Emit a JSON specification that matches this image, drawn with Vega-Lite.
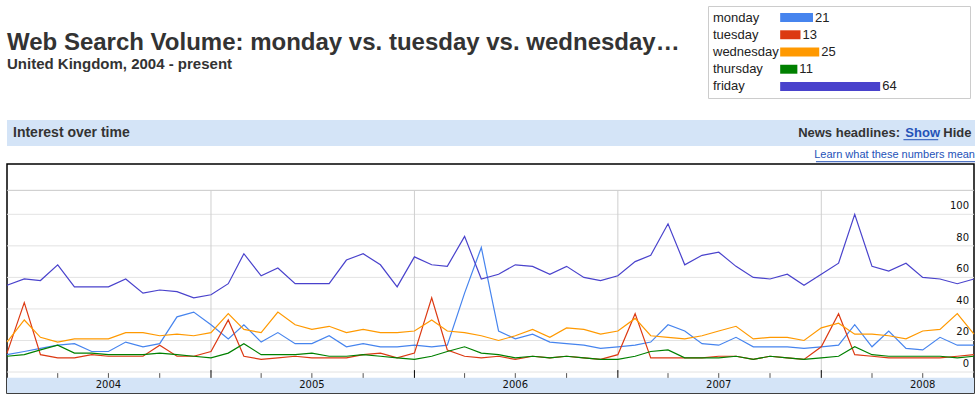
{
  "$schema": "https://vega.github.io/schema/vega-lite/v6.json",
  "background": "#ffffff",
  "padding": {"left": 3, "top": 5, "right": 0, "bottom": 3},
  "config": {"view": {"stroke": null}, "font": "Liberation Sans", "text": {"font": "Liberation Sans"}},
  "spacing": 21,
  "vconcat": [
    {
      "spacing": 10,
      "hconcat": [
        {
          "width": 690,
          "height": 92,
          "layer": [
            {
              "data": {"values": [{"t": "Web Search Volume: monday vs. tuesday vs. wednesday…"}]},
              "mark": {"type": "text", "align": "left", "baseline": "alphabetic", "fontSize": 24, "fontWeight": "bold", "color": "#333333", "dy": -1},
              "encoding": {
                "text": {"field": "t"},
                "x": {"datum": 0, "type": "quantitative", "scale": {"domain": [0, 1], "nice": false, "zero": false}, "axis": null},
                "y": {"datum": 1, "type": "quantitative", "scale": {"domain": [-1.8125, 3.9375], "reverse": true, "nice": false, "zero": false}, "axis": null}
              }
            },
            {
              "data": {"values": [{"t": "United Kingdom, 2004 - present"}]},
              "mark": {"type": "text", "align": "left", "baseline": "alphabetic", "fontSize": 15, "fontWeight": "bold", "color": "#333333", "dy": 2},
              "encoding": {
                "text": {"field": "t"},
                "x": {"datum": 0, "type": "quantitative", "scale": {"domain": [0, 1], "nice": false, "zero": false}, "axis": null},
                "y": {"datum": 2, "type": "quantitative", "scale": {"domain": [-1.8125, 3.9375], "reverse": true, "nice": false, "zero": false}, "axis": null}
              }
            }
          ]
        },
        {
          "width": 262,
          "height": 92,
          "view": {"stroke": "#cccccc", "strokeWidth": 1},
          "data": {"values": [
            {"s": "monday", "v": 21},
            {"s": "tuesday", "v": 13},
            {"s": "wednesday", "v": 25},
            {"s": "thursday", "v": 11},
            {"s": "friday", "v": 64}
          ]},
          "encoding": {
            "y": {"field": "s", "type": "nominal", "sort": null, "scale": {"domain": ["monday", "tuesday", "wednesday", "thursday", "friday"], "paddingInner": 0.48, "paddingOuter": 0.41}, "axis": null}
          },
          "layer": [
            {
              "mark": {"type": "bar"},
              "encoding": {
                "x": {"field": "v", "type": "quantitative", "scale": {"domain": [-46.2, 121.5], "nice": false, "zero": false}, "axis": null},
                "color": {"field": "s", "type": "nominal", "scale": {"domain": ["monday", "tuesday", "wednesday", "thursday", "friday"], "range": ["#4684ee", "#dc3912", "#ff9900", "#008000", "#4942cc"]}, "legend": null}
              }
            },
            {
              "mark": {"type": "text", "align": "left", "baseline": "middle", "dx": 2, "fontSize": 13, "color": "#222222"},
              "encoding": {
                "x": {"field": "v", "type": "quantitative", "scale": {"domain": [-46.2, 121.5], "nice": false, "zero": false}, "axis": null},
                "text": {"field": "v", "type": "quantitative"}
              }
            },
            {
              "mark": {"type": "text", "align": "left", "baseline": "middle", "fontSize": 13, "color": "#222222"},
              "encoding": {
                "x": {"datum": -43, "type": "quantitative", "scale": {"domain": [-46.2, 121.5], "nice": false, "zero": false}, "axis": null},
                "text": {"field": "s"}
              }
            }
          ]
        }
      ]
    },
    {
      "spacing": 0,
      "vconcat": [
        {
          "width": 968,
          "height": 26,
          "view": {"fill": "#d4e4f7", "stroke": null},
          "layer": [
            {
              "data": {"values": [{"t": "Interest over time"}]},
              "mark": {"type": "text", "align": "left", "baseline": "middle", "dx": 6, "fontSize": 14, "fontWeight": "bold", "color": "#333333"},
              "encoding": {
                "text": {"field": "t"},
                "x": {"datum": 0, "type": "quantitative", "scale": {"domain": [0, 1], "nice": false, "zero": false}, "axis": null},
                "y": {"datum": 0.5, "type": "quantitative", "scale": {"domain": [0, 1], "nice": false, "zero": false}, "axis": null}
              }
            },
            {
              "data": {"values": [{"t": "News headlines:"}]},
              "mark": {"type": "text", "align": "right", "baseline": "middle", "dx": -75, "fontSize": 13, "fontWeight": "bold", "color": "#333333"},
              "encoding": {
                "text": {"field": "t"},
                "x": {"datum": 1, "type": "quantitative", "scale": {"domain": [0, 1], "nice": false, "zero": false}, "axis": null},
                "y": {"datum": 0.5, "type": "quantitative", "scale": {"domain": [0, 1], "nice": false, "zero": false}, "axis": null}
              }
            },
            {
              "data": {"values": [{"t": "Show"}]},
              "mark": {"type": "text", "align": "right", "baseline": "middle", "dx": -35, "fontSize": 13, "fontWeight": "bold", "color": "#2452b8"},
              "encoding": {
                "text": {"field": "t"},
                "x": {"datum": 1, "type": "quantitative", "scale": {"domain": [0, 1], "nice": false, "zero": false}, "axis": null},
                "y": {"datum": 0.5, "type": "quantitative", "scale": {"domain": [0, 1], "nice": false, "zero": false}, "axis": null}
              }
            },
            {
              "data": {"values": [{"t": "Hide"}]},
              "mark": {"type": "text", "align": "right", "baseline": "middle", "dx": -3.5, "fontSize": 13, "fontWeight": "bold", "color": "#333333"},
              "encoding": {
                "text": {"field": "t"},
                "x": {"datum": 1, "type": "quantitative", "scale": {"domain": [0, 1], "nice": false, "zero": false}, "axis": null},
                "y": {"datum": 0.5, "type": "quantitative", "scale": {"domain": [0, 1], "nice": false, "zero": false}, "axis": null}
              }
            },
            {
              "data": {"values": [{}]},
              "mark": {"type": "rule", "color": "#2452b8", "strokeWidth": 1},
              "encoding": {
                "x": {"datum": 0.9261, "type": "quantitative", "scale": {"domain": [0, 1], "nice": false, "zero": false}, "axis": null},
                "x2": {"datum": 0.962},
                "y": {"datum": 0.242, "type": "quantitative", "scale": {"domain": [0, 1], "nice": false, "zero": false}, "axis": null}
              }
            }
          ]
        },
        {
          "width": 968,
          "height": 17,
          "layer": [
            {
              "data": {"values": [{"t": "Learn what these numbers mean"}]},
              "mark": {"type": "text", "align": "right", "baseline": "alphabetic", "fontSize": 11, "color": "#2452b8"},
              "encoding": {
                "text": {"field": "t"},
                "x": {"datum": 1, "type": "quantitative", "scale": {"domain": [0, 1], "nice": false, "zero": false}, "axis": null},
                "y": {"datum": 0.265, "type": "quantitative", "scale": {"domain": [0, 1], "nice": false, "zero": false}, "axis": null}
              }
            },
            {
              "data": {"values": [{}]},
              "mark": {"type": "rule", "color": "#2452b8", "strokeWidth": 1},
              "encoding": {
                "x": {"datum": 0.8357, "type": "quantitative", "scale": {"domain": [0, 1], "nice": false, "zero": false}, "axis": null},
                "x2": {"datum": 1},
                "y": {"datum": 0.076, "type": "quantitative", "scale": {"domain": [0, 1], "nice": false, "zero": false}, "axis": null}
              }
            }
          ]
        },
        {
          "width": 967,
          "height": 229,
          "view": {"stroke": "#000000", "strokeWidth": 1.5},
          "layer": [
            {
              "data": {"values": [{}]},
              "mark": {"type": "rect", "color": "#d4e4f7"},
              "encoding": {
                "x": {"datum": {"year": 2004, "month": 1, "date": 1}, "type": "temporal", "scale": {"domain": [{"year": 2004, "month": 1, "date": 1}, {"year": 2008, "month": 10, "date": 1}]}, "axis": null},
                "x2": {"datum": {"year": 2008, "month": 10, "date": 1}},
                "y": {"datum": -13.3, "type": "quantitative", "scale": {"domain": [-13.3, 131.9], "nice": false, "zero": false}, "axis": null},
                "y2": {"datum": -3.7}
              }
            },
            {
              "data": {"values": [{"g": 0}, {"g": 20}, {"g": 40}, {"g": 60}, {"g": 80}, {"g": 100}]},
              "layer": [
                {
                  "mark": {"type": "rule", "color": "#e3e3e3", "strokeWidth": 1},
                  "encoding": {
                    "y": {"field": "g", "type": "quantitative", "scale": {"domain": [-13.3, 131.9], "nice": false, "zero": false}, "axis": null}
                  }
                },
                {
                  "mark": {"type": "text", "align": "right", "baseline": "alphabetic", "dx": -5, "dy": -5, "font": "DejaVu Sans", "fontSize": 10, "color": "#111111"},
                  "encoding": {
                    "x": {"datum": {"year": 2008, "month": 10, "date": 1}, "type": "temporal", "scale": {"domain": [{"year": 2004, "month": 1, "date": 1}, {"year": 2008, "month": 10, "date": 1}]}, "axis": null},
                    "y": {"field": "g", "type": "quantitative", "scale": {"domain": [-13.3, 131.9], "nice": false, "zero": false}, "axis": null},
                    "text": {"field": "g", "type": "quantitative"}
                  }
                }
              ]
            },
            {
              "data": {"values": [{}]},
              "mark": {"type": "rule", "color": "#c8c8c8", "strokeWidth": 1},
              "encoding": {
                "y": {"datum": 115.2, "type": "quantitative", "scale": {"domain": [-13.3, 131.9], "nice": false, "zero": false}, "axis": null}
              }
            },
            {
              "data": {"values": [
                {"d": "2004-04", "k": "minor"}, {"d": "2004-07", "k": "minor"}, {"d": "2004-10", "k": "minor"},
                {"d": "2005-01", "k": "major"}, {"d": "2005-04", "k": "minor"}, {"d": "2005-07", "k": "minor"}, {"d": "2005-10", "k": "minor"},
                {"d": "2006-01", "k": "major"}, {"d": "2006-04", "k": "minor"}, {"d": "2006-07", "k": "minor"}, {"d": "2006-10", "k": "minor"},
                {"d": "2007-01", "k": "major"}, {"d": "2007-04", "k": "minor"}, {"d": "2007-07", "k": "minor"}, {"d": "2007-10", "k": "minor"},
                {"d": "2008-01", "k": "major"}, {"d": "2008-04", "k": "minor"}, {"d": "2008-07", "k": "minor"}
              ], "format": {"parse": {"d": "date:'%Y-%m'"}}},
              "layer": [
                {
                  "transform": [{"filter": "datum.k === 'major'"}],
                  "mark": {"type": "rule", "color": "#cfcfcf", "strokeWidth": 1},
                  "encoding": {
                    "x": {"field": "d", "type": "temporal", "scale": {"domain": [{"year": 2004, "month": 1, "date": 1}, {"year": 2008, "month": 10, "date": 1}]}, "axis": null},
                    "y": {"datum": 0, "type": "quantitative", "scale": {"domain": [-13.3, 131.9], "nice": false, "zero": false}, "axis": null},
                    "y2": {"datum": 115.2}
                  }
                },
                {
                  "transform": [{"filter": "datum.k === 'major'"}],
                  "mark": {"type": "rule", "color": "#000000", "strokeWidth": 1},
                  "encoding": {
                    "x": {"field": "d", "type": "temporal", "scale": {"domain": [{"year": 2004, "month": 1, "date": 1}, {"year": 2008, "month": 10, "date": 1}]}, "axis": null},
                    "y": {"datum": 1.2, "type": "quantitative", "scale": {"domain": [-13.3, 131.9], "nice": false, "zero": false}, "axis": null},
                    "y2": {"datum": -3.7}
                  }
                },
                {
                  "transform": [{"filter": "datum.k === 'minor'"}],
                  "mark": {"type": "rule", "color": "#555555", "strokeWidth": 1},
                  "encoding": {
                    "x": {"field": "d", "type": "temporal", "scale": {"domain": [{"year": 2004, "month": 1, "date": 1}, {"year": 2008, "month": 10, "date": 1}]}, "axis": null},
                    "y": {"datum": -0.7, "type": "quantitative", "scale": {"domain": [-13.3, 131.9], "nice": false, "zero": false}, "axis": null},
                    "y2": {"datum": -3.7}
                  }
                }
              ]
            },
            {
              "data": {"values": [
                {"yr": "2004", "d": "2004-07"}, {"yr": "2005", "d": "2005-07"}, {"yr": "2006", "d": "2006-07"}, {"yr": "2007", "d": "2007-07"}, {"yr": "2008", "d": "2008-07"}
              ], "format": {"parse": {"d": "date:'%Y-%m'"}}},
              "mark": {"type": "text", "align": "center", "baseline": "middle", "font": "DejaVu Sans", "fontSize": 10, "color": "#111111"},
              "encoding": {
                "x": {"field": "d", "type": "temporal", "scale": {"domain": [{"year": 2004, "month": 1, "date": 1}, {"year": 2008, "month": 10, "date": 1}]}, "axis": null},
                "y": {"datum": -8.4, "type": "quantitative", "scale": {"domain": [-13.3, 131.9], "nice": false, "zero": false}, "axis": null},
                "text": {"field": "yr"}
              }
            },
            {
              "data": {"values": [
                {"d":"2004-01","s":"monday","v":11},{"d":"2004-02","s":"monday","v":13},{"d":"2004-03","s":"monday","v":15},{"d":"2004-04","s":"monday","v":17},{"d":"2004-05","s":"monday","v":18},{"d":"2004-06","s":"monday","v":13},{"d":"2004-07","s":"monday","v":13},{"d":"2004-08","s":"monday","v":19},{"d":"2004-09","s":"monday","v":16},{"d":"2004-10","s":"monday","v":18},{"d":"2004-11","s":"monday","v":35},{"d":"2004-12","s":"monday","v":38},
                {"d":"2005-01","s":"monday","v":30},{"d":"2005-02","s":"monday","v":21},{"d":"2005-03","s":"monday","v":30},{"d":"2005-04","s":"monday","v":19},{"d":"2005-05","s":"monday","v":25},{"d":"2005-06","s":"monday","v":18},{"d":"2005-07","s":"monday","v":18},{"d":"2005-08","s":"monday","v":23},{"d":"2005-09","s":"monday","v":16},{"d":"2005-10","s":"monday","v":18},{"d":"2005-11","s":"monday","v":16},{"d":"2005-12","s":"monday","v":16},
                {"d":"2006-01","s":"monday","v":17},{"d":"2006-02","s":"monday","v":16},{"d":"2006-03","s":"monday","v":17},{"d":"2006-04","s":"monday","v":50},{"d":"2006-05","s":"monday","v":79},{"d":"2006-06","s":"monday","v":26},{"d":"2006-07","s":"monday","v":21},{"d":"2006-08","s":"monday","v":24},{"d":"2006-09","s":"monday","v":19},{"d":"2006-10","s":"monday","v":18},{"d":"2006-11","s":"monday","v":17},{"d":"2006-12","s":"monday","v":15},
                {"d":"2007-01","s":"monday","v":16},{"d":"2007-02","s":"monday","v":17},{"d":"2007-03","s":"monday","v":19},{"d":"2007-04","s":"monday","v":30},{"d":"2007-05","s":"monday","v":26},{"d":"2007-06","s":"monday","v":18},{"d":"2007-07","s":"monday","v":17},{"d":"2007-08","s":"monday","v":22},{"d":"2007-09","s":"monday","v":16},{"d":"2007-10","s":"monday","v":16},{"d":"2007-11","s":"monday","v":16},{"d":"2007-12","s":"monday","v":15},
                {"d":"2008-01","s":"monday","v":16},{"d":"2008-02","s":"monday","v":17},{"d":"2008-03","s":"monday","v":30},{"d":"2008-04","s":"monday","v":16},{"d":"2008-05","s":"monday","v":26},{"d":"2008-06","s":"monday","v":15},{"d":"2008-07","s":"monday","v":14},{"d":"2008-08","s":"monday","v":22},{"d":"2008-09","s":"monday","v":17},{"d":"2008-10","s":"monday","v":17},

                {"d":"2004-01","s":"tuesday","v":12},{"d":"2004-02","s":"tuesday","v":44},{"d":"2004-03","s":"tuesday","v":11},{"d":"2004-04","s":"tuesday","v":9},{"d":"2004-05","s":"tuesday","v":9},{"d":"2004-06","s":"tuesday","v":11},{"d":"2004-07","s":"tuesday","v":10},{"d":"2004-08","s":"tuesday","v":10},{"d":"2004-09","s":"tuesday","v":10},{"d":"2004-10","s":"tuesday","v":17},{"d":"2004-11","s":"tuesday","v":10},{"d":"2004-12","s":"tuesday","v":10},
                {"d":"2005-01","s":"tuesday","v":13},{"d":"2005-02","s":"tuesday","v":33},{"d":"2005-03","s":"tuesday","v":10},{"d":"2005-04","s":"tuesday","v":8},{"d":"2005-05","s":"tuesday","v":9},{"d":"2005-06","s":"tuesday","v":10},{"d":"2005-07","s":"tuesday","v":9},{"d":"2005-08","s":"tuesday","v":9},{"d":"2005-09","s":"tuesday","v":9},{"d":"2005-10","s":"tuesday","v":11},{"d":"2005-11","s":"tuesday","v":12},{"d":"2005-12","s":"tuesday","v":9},
                {"d":"2006-01","s":"tuesday","v":12},{"d":"2006-02","s":"tuesday","v":47},{"d":"2006-03","s":"tuesday","v":14},{"d":"2006-04","s":"tuesday","v":10},{"d":"2006-05","s":"tuesday","v":9},{"d":"2006-06","s":"tuesday","v":10},{"d":"2006-07","s":"tuesday","v":8},{"d":"2006-08","s":"tuesday","v":10},{"d":"2006-09","s":"tuesday","v":9},{"d":"2006-10","s":"tuesday","v":10},{"d":"2006-11","s":"tuesday","v":9},{"d":"2006-12","s":"tuesday","v":8},
                {"d":"2007-01","s":"tuesday","v":11},{"d":"2007-02","s":"tuesday","v":37},{"d":"2007-03","s":"tuesday","v":9},{"d":"2007-04","s":"tuesday","v":9},{"d":"2007-05","s":"tuesday","v":9},{"d":"2007-06","s":"tuesday","v":9},{"d":"2007-07","s":"tuesday","v":10},{"d":"2007-08","s":"tuesday","v":10},{"d":"2007-09","s":"tuesday","v":8},{"d":"2007-10","s":"tuesday","v":10},{"d":"2007-11","s":"tuesday","v":9},{"d":"2007-12","s":"tuesday","v":8},
                {"d":"2008-01","s":"tuesday","v":16},{"d":"2008-02","s":"tuesday","v":37},{"d":"2008-03","s":"tuesday","v":11},{"d":"2008-04","s":"tuesday","v":10},{"d":"2008-05","s":"tuesday","v":9},{"d":"2008-06","s":"tuesday","v":9},{"d":"2008-07","s":"tuesday","v":9},{"d":"2008-08","s":"tuesday","v":9},{"d":"2008-09","s":"tuesday","v":10},{"d":"2008-10","s":"tuesday","v":11},

                {"d":"2004-01","s":"wednesday","v":19},{"d":"2004-02","s":"wednesday","v":33},{"d":"2004-03","s":"wednesday","v":22},{"d":"2004-04","s":"wednesday","v":19},{"d":"2004-05","s":"wednesday","v":21},{"d":"2004-06","s":"wednesday","v":21},{"d":"2004-07","s":"wednesday","v":21},{"d":"2004-08","s":"wednesday","v":25},{"d":"2004-09","s":"wednesday","v":25},{"d":"2004-10","s":"wednesday","v":23},{"d":"2004-11","s":"wednesday","v":24},{"d":"2004-12","s":"wednesday","v":23},
                {"d":"2005-01","s":"wednesday","v":25},{"d":"2005-02","s":"wednesday","v":37},{"d":"2005-03","s":"wednesday","v":27},{"d":"2005-04","s":"wednesday","v":25},{"d":"2005-05","s":"wednesday","v":38},{"d":"2005-06","s":"wednesday","v":30},{"d":"2005-07","s":"wednesday","v":27},{"d":"2005-08","s":"wednesday","v":29},{"d":"2005-09","s":"wednesday","v":25},{"d":"2005-10","s":"wednesday","v":27},{"d":"2005-11","s":"wednesday","v":25},{"d":"2005-12","s":"wednesday","v":25},
                {"d":"2006-01","s":"wednesday","v":26},{"d":"2006-02","s":"wednesday","v":33},{"d":"2006-03","s":"wednesday","v":26},{"d":"2006-04","s":"wednesday","v":25},{"d":"2006-05","s":"wednesday","v":23},{"d":"2006-06","s":"wednesday","v":20},{"d":"2006-07","s":"wednesday","v":23},{"d":"2006-08","s":"wednesday","v":27},{"d":"2006-09","s":"wednesday","v":22},{"d":"2006-10","s":"wednesday","v":28},{"d":"2006-11","s":"wednesday","v":27},{"d":"2006-12","s":"wednesday","v":24},
                {"d":"2007-01","s":"wednesday","v":26},{"d":"2007-02","s":"wednesday","v":34},{"d":"2007-03","s":"wednesday","v":23},{"d":"2007-04","s":"wednesday","v":22},{"d":"2007-05","s":"wednesday","v":21},{"d":"2007-06","s":"wednesday","v":23},{"d":"2007-07","s":"wednesday","v":26},{"d":"2007-08","s":"wednesday","v":29},{"d":"2007-09","s":"wednesday","v":21},{"d":"2007-10","s":"wednesday","v":22},{"d":"2007-11","s":"wednesday","v":22},{"d":"2007-12","s":"wednesday","v":20},
                {"d":"2008-01","s":"wednesday","v":28},{"d":"2008-02","s":"wednesday","v":31},{"d":"2008-03","s":"wednesday","v":24},{"d":"2008-04","s":"wednesday","v":24},{"d":"2008-05","s":"wednesday","v":23},{"d":"2008-06","s":"wednesday","v":21},{"d":"2008-07","s":"wednesday","v":26},{"d":"2008-08","s":"wednesday","v":27},{"d":"2008-09","s":"wednesday","v":37},{"d":"2008-10","s":"wednesday","v":24},

                {"d":"2004-01","s":"thursday","v":10},{"d":"2004-02","s":"thursday","v":11},{"d":"2004-03","s":"thursday","v":14},{"d":"2004-04","s":"thursday","v":17},{"d":"2004-05","s":"thursday","v":12},{"d":"2004-06","s":"thursday","v":12},{"d":"2004-07","s":"thursday","v":11},{"d":"2004-08","s":"thursday","v":11},{"d":"2004-09","s":"thursday","v":11},{"d":"2004-10","s":"thursday","v":12},{"d":"2004-11","s":"thursday","v":11},{"d":"2004-12","s":"thursday","v":10},
                {"d":"2005-01","s":"thursday","v":9},{"d":"2005-02","s":"thursday","v":12},{"d":"2005-03","s":"thursday","v":18},{"d":"2005-04","s":"thursday","v":11},{"d":"2005-05","s":"thursday","v":11},{"d":"2005-06","s":"thursday","v":11},{"d":"2005-07","s":"thursday","v":12},{"d":"2005-08","s":"thursday","v":10},{"d":"2005-09","s":"thursday","v":10},{"d":"2005-10","s":"thursday","v":11},{"d":"2005-11","s":"thursday","v":10},{"d":"2005-12","s":"thursday","v":9},
                {"d":"2006-01","s":"thursday","v":8},{"d":"2006-02","s":"thursday","v":10},{"d":"2006-03","s":"thursday","v":13},{"d":"2006-04","s":"thursday","v":16},{"d":"2006-05","s":"thursday","v":12},{"d":"2006-06","s":"thursday","v":11},{"d":"2006-07","s":"thursday","v":9},{"d":"2006-08","s":"thursday","v":10},{"d":"2006-09","s":"thursday","v":9},{"d":"2006-10","s":"thursday","v":10},{"d":"2006-11","s":"thursday","v":9},{"d":"2006-12","s":"thursday","v":8},
                {"d":"2007-01","s":"thursday","v":8},{"d":"2007-02","s":"thursday","v":10},{"d":"2007-03","s":"thursday","v":13},{"d":"2007-04","s":"thursday","v":14},{"d":"2007-05","s":"thursday","v":9},{"d":"2007-06","s":"thursday","v":9},{"d":"2007-07","s":"thursday","v":9},{"d":"2007-08","s":"thursday","v":10},{"d":"2007-09","s":"thursday","v":8},{"d":"2007-10","s":"thursday","v":10},{"d":"2007-11","s":"thursday","v":9},{"d":"2007-12","s":"thursday","v":8},
                {"d":"2008-01","s":"thursday","v":9},{"d":"2008-02","s":"thursday","v":10},{"d":"2008-03","s":"thursday","v":16},{"d":"2008-04","s":"thursday","v":11},{"d":"2008-05","s":"thursday","v":10},{"d":"2008-06","s":"thursday","v":10},{"d":"2008-07","s":"thursday","v":10},{"d":"2008-08","s":"thursday","v":10},{"d":"2008-09","s":"thursday","v":9},{"d":"2008-10","s":"thursday","v":10},

                {"d":"2004-01","s":"friday","v":55},{"d":"2004-02","s":"friday","v":59},{"d":"2004-03","s":"friday","v":58},{"d":"2004-04","s":"friday","v":68},{"d":"2004-05","s":"friday","v":54},{"d":"2004-06","s":"friday","v":54},{"d":"2004-07","s":"friday","v":54},{"d":"2004-08","s":"friday","v":59},{"d":"2004-09","s":"friday","v":50},{"d":"2004-10","s":"friday","v":52},{"d":"2004-11","s":"friday","v":51},{"d":"2004-12","s":"friday","v":47},
                {"d":"2005-01","s":"friday","v":49},{"d":"2005-02","s":"friday","v":56},{"d":"2005-03","s":"friday","v":75},{"d":"2005-04","s":"friday","v":61},{"d":"2005-05","s":"friday","v":66},{"d":"2005-06","s":"friday","v":56},{"d":"2005-07","s":"friday","v":56},{"d":"2005-08","s":"friday","v":56},{"d":"2005-09","s":"friday","v":71},{"d":"2005-10","s":"friday","v":75},{"d":"2005-11","s":"friday","v":68},{"d":"2005-12","s":"friday","v":54},
                {"d":"2006-01","s":"friday","v":73},{"d":"2006-02","s":"friday","v":68},{"d":"2006-03","s":"friday","v":67},{"d":"2006-04","s":"friday","v":86},{"d":"2006-05","s":"friday","v":59},{"d":"2006-06","s":"friday","v":62},{"d":"2006-07","s":"friday","v":68},{"d":"2006-08","s":"friday","v":67},{"d":"2006-09","s":"friday","v":62},{"d":"2006-10","s":"friday","v":67},{"d":"2006-11","s":"friday","v":60},{"d":"2006-12","s":"friday","v":58},
                {"d":"2007-01","s":"friday","v":61},{"d":"2007-02","s":"friday","v":70},{"d":"2007-03","s":"friday","v":74},{"d":"2007-04","s":"friday","v":94},{"d":"2007-05","s":"friday","v":68},{"d":"2007-06","s":"friday","v":74},{"d":"2007-07","s":"friday","v":76},{"d":"2007-08","s":"friday","v":67},{"d":"2007-09","s":"friday","v":60},{"d":"2007-10","s":"friday","v":59},{"d":"2007-11","s":"friday","v":62},{"d":"2007-12","s":"friday","v":55},
                {"d":"2008-01","s":"friday","v":62},{"d":"2008-02","s":"friday","v":69},{"d":"2008-03","s":"friday","v":100},{"d":"2008-04","s":"friday","v":67},{"d":"2008-05","s":"friday","v":64},{"d":"2008-06","s":"friday","v":69},{"d":"2008-07","s":"friday","v":60},{"d":"2008-08","s":"friday","v":59},{"d":"2008-09","s":"friday","v":56},{"d":"2008-10","s":"friday","v":59}
              ], "format": {"parse": {"d": "date:'%Y-%m'"}}},
              "mark": {"type": "line", "strokeWidth": 1.2},
              "encoding": {
                "x": {"field": "d", "type": "temporal", "scale": {"domain": [{"year": 2004, "month": 1, "date": 1}, {"year": 2008, "month": 10, "date": 1}]}, "axis": null},
                "y": {"field": "v", "type": "quantitative", "scale": {"domain": [-13.3, 131.9], "nice": false, "zero": false}, "axis": null},
                "color": {"field": "s", "type": "nominal", "scale": {"domain": ["monday", "tuesday", "wednesday", "thursday", "friday"], "range": ["#4684ee", "#dc3912", "#ff9900", "#008000", "#4942cc"]}, "legend": null}
              }
            }
          ]
        }
      ]
    }
  ]
}
